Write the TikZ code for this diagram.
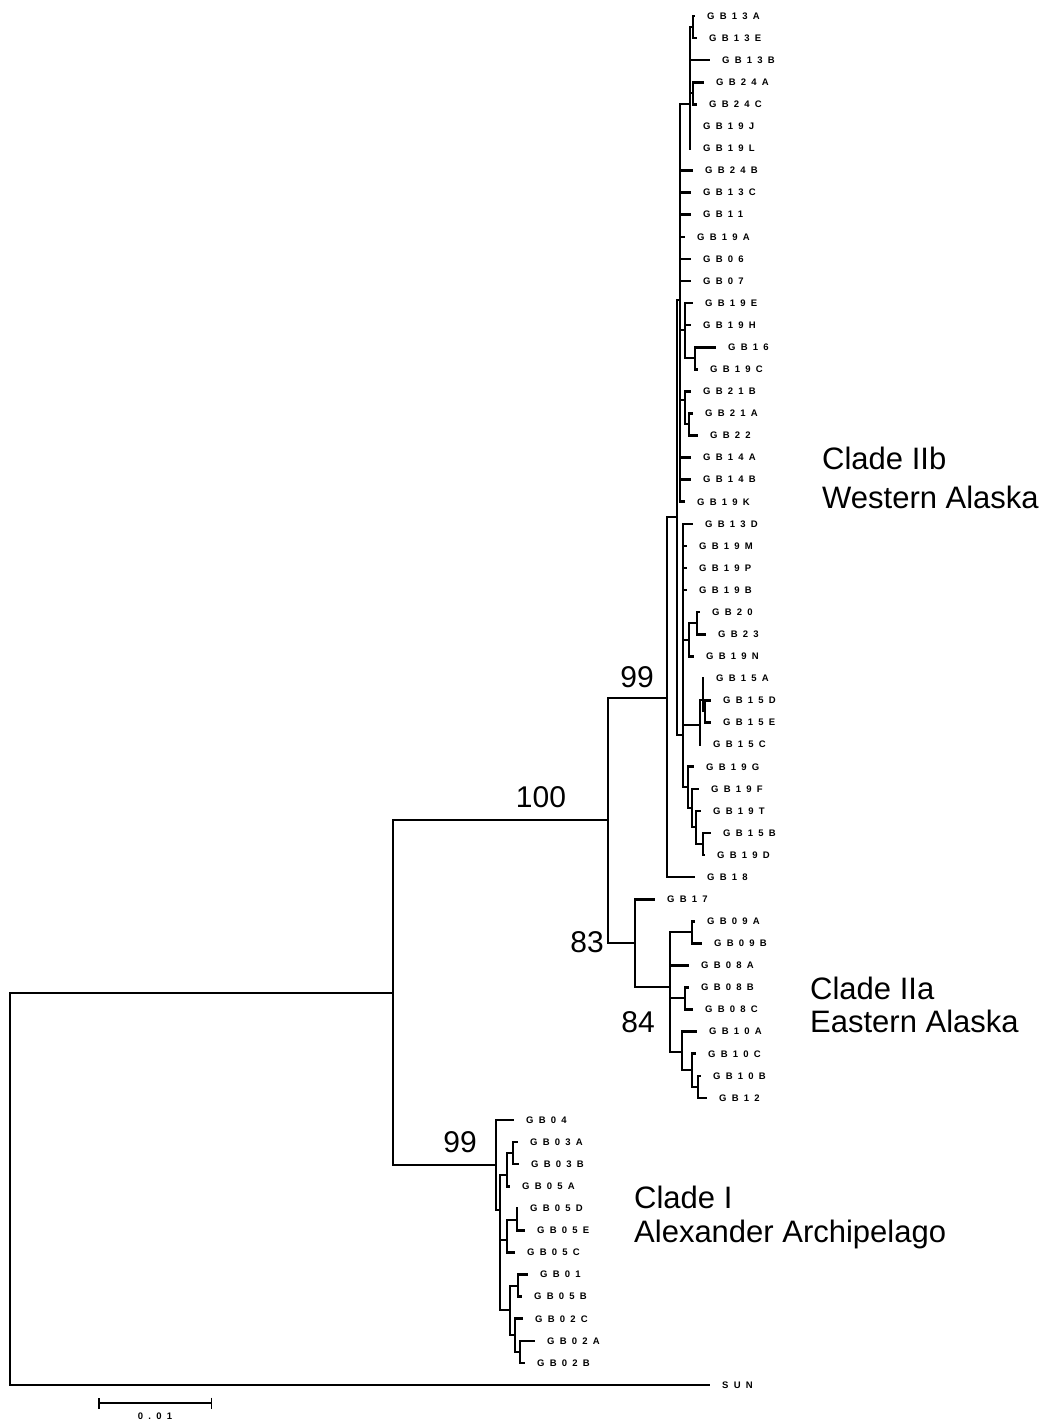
\documentclass[tikz,border=0pt]{standalone}
\usepackage{fontspec}
\setmainfont{Liberation Sans}
\newfontfamily\tipfont[LetterSpace=55]{Liberation Sans}
\usetikzlibrary{positioning,arrows.meta}
\tikzset{
  branch/.style={line width=2.6pt, line join=miter},
  tiplab/.style={font=\tipfont\bfseries\fontsize{9.5}{11}\selectfont, inner sep=0pt},
  boot/.style={font=\fontsize{30}{36}\selectfont, inner sep=0pt, anchor=base},
  clade/.style={font=\fontsize{31}{36}\selectfont, inner sep=0pt, anchor=base west}
}
\begin{document}
\begin{tikzpicture}[x=1pt,y=-1pt]
\useasboundingbox (0,0) rectangle (1052,1422);
% tips: name/x/row
\foreach \n/\x/\i in {13A/695/0, 13E/697/1, 13B/710/2, 24A/704/3, 24C/697/4, 19J/691/5, 19L/691/6, 24B/693/7, 13C/691/8, 11/691/9, 19A/685/10, 06/691/11, 07/691/12, 19E/693/13, 19H/691/14, 16/716/15, 19C/698/16, 21B/691/17, 21A/693/18, 22/698/19, 14A/691/20, 14B/691/21, 19K/685/22, 13D/693/23, 19M/687/24, 19P/687/25, 19B/687/26, 20/700/27, 23/706/28, 19N/694/29, 15A/704/30, 15D/711/31, 15E/711/32, 15C/701/33, 19G/694/34, 19F/699/35, 19T/701/36, 15B/711/37, 19D/705/38, 18/695/39, 17/655/40, 09A/695/41, 09B/702/42, 08A/689/43, 08B/689/44, 08C/693/45, 10A/697/46, 10C/696/47, 10B/701/48, 12/707/49, 04/514/50, 03A/518/51, 03B/519/52, 05A/510/53, 05D/518/54, 05E/525/55, 05C/515/56, 01/528/57, 05B/522/58, 02C/523/59, 02A/535/60, 02B/525/61}
{
  \coordinate (t\n) at (\x,{16+22.08*\i});
  \node[tiplab, right=12pt of t\n] (g\n) {GB\n};
}
\coordinate (tSUN) at (710,1385);
\node[tiplab, right=12pt of tSUN] (gSUN) {SUN};
% internal nodes
\foreach \n/\x/\y in {R/10/1189, A/393/993, B/608/820, C1/496/1165, IIb/667/698, IIa/635/943,
  Bb/677/517, U/680/300, L/683/735, U1/690/104, n13AE/693/27, n24/693/93, U3/685/330,
  n16/695/358, U4/685/400, n22/689/424, n20/689/640, n2023/697/623, n15/700/725,
  n15AD/703/700, n15DE/705/711, n19G/688/787, n19F/692/808, n19T/696/827, n15B/703/844,
  Ca/670/987, n09/692/932, n08/685/998, n10/682/1052, n10C/692/1070, n12/698/1087,
  Cr/500/1210, n03g/507/1175, n03/513/1153, n05g/507/1240, n05DE/517/1220,
  nlow/510/1310, n01/518/1286, n02/515/1335, n02AB/520/1352}
  \coordinate (\n) at (\x,\y);
% branches
\foreach \p/\c in {R/A, R/tSUN, A/B, A/C1, B/IIb, B/IIa, IIb/Bb, IIb/t18, Bb/U, Bb/L,
  U/U1, U/t24B, U/t13C, U/t11, U/t19A, U/t06, U/t07, U/U3, U/U4, U/t14A, U/t14B, U/t19K,
  U1/n13AE, U1/t13B, U1/n24, U1/t19J, U1/t19L, n13AE/t13A, n13AE/t13E, n24/t24A, n24/t24C,
  U3/t19E, U3/t19H, U3/n16, n16/t16, n16/t19C, U4/t21B, U4/n22, n22/t21A, n22/t22,
  L/t13D, L/t19M, L/t19P, L/t19B, L/n20, L/n15, L/n19G, n20/n2023, n20/t19N, n2023/t20, n2023/t23,
  n15/n15AD, n15/t15C, n15AD/t15A, n15AD/n15DE, n15DE/t15D, n15DE/t15E,
  n19G/t19G, n19G/n19F, n19F/t19F, n19F/n19T, n19T/t19T, n19T/n15B, n15B/t15B, n15B/t19D,
  IIa/t17, IIa/Ca, Ca/n09, Ca/t08A, Ca/n08, Ca/n10, n09/t09A, n09/t09B, n08/t08B, n08/t08C,
  n10/t10A, n10/n10C, n10C/t10C, n10C/n12, n12/t10B, n12/t12,
  C1/t04, C1/Cr, Cr/n03g, Cr/n05g, Cr/nlow, n03g/n03, n03g/t05A, n03/t03A, n03/t03B,
  n05g/n05DE, n05g/t05C, n05DE/t05D, n05DE/t05E, nlow/n01, nlow/n02, n01/t01, n01/t05B,
  n02/t02C, n02/n02AB, n02AB/t02A, n02AB/t02B}
  \draw[branch] (\p) |- (\c);
% bootstrap values
\node[boot] (b100) at (541,807) {100};
\node[boot] (b99a) at (637,687) {99};
\node[boot] (b83) at (587,952) {83};
\node[boot] (b84) at (638,1032) {84};
\node[boot] (b99b) at (460,1152) {99};
% clade names
\node[clade] (c2b) at (822,469) {Clade IIb};
\node[clade] (c2bw) at (822,508) {Western Alaska};
\node[clade] (c2a) at (810,999) {Clade IIa};
\node[clade] (c2ae) at (810,1032) {Eastern Alaska};
\node[clade] (c1) at (634,1208) {Clade I};
\node[clade] (c1a) at (634,1242) {Alexander Archipelago};
% scale bar
\coordinate (sb1) at (98,1403);
\coordinate (sb2) at (212,1403);
\draw[line width=1.5pt, {Bar[width=11pt]}-{Bar[width=11pt]}] (sb1) -- (sb2);
\node[tiplab] (sbl) at (155,1416) {0.01};
\end{tikzpicture}
\end{document}
